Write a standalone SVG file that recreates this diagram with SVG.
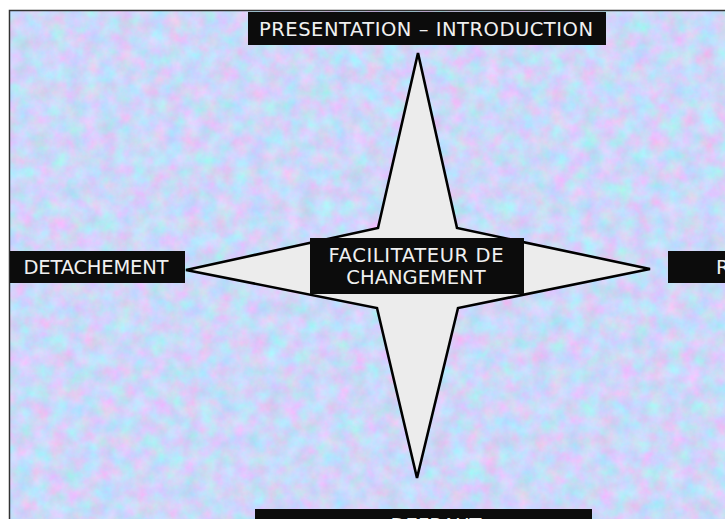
<svg xmlns="http://www.w3.org/2000/svg" width="725" height="519" viewBox="0 0 725 519">
  <defs>
    <filter id="tex" x="0" y="0" width="100%" height="100%" color-interpolation-filters="sRGB">
      <feTurbulence type="fractalNoise" baseFrequency="0.06" numOctaves="4" seed="7" result="n"/>
      <feColorMatrix in="n" type="matrix" values="0.4 0 0 0 0.6  -0.22 0.15 0 0 0.88  0 0 0.15 0 0.9  0 0 0 0 1"/>
    </filter>
    <style>
      .box { fill: #0c0c0c; }
      .lbl { fill: #f0f0f0; font-family: "DejaVu Sans", Verdana, sans-serif; font-size: 19.5px; text-anchor: middle; }
      .star { fill: #ececec; stroke: #000; stroke-width: 2.6; stroke-linejoin: miter; }
    </style>
  </defs>
  <rect x="0" y="0" width="725" height="519" fill="#ffffff"/>
  <rect x="10" y="11" width="715" height="508" fill="#c8d6f6" filter="url(#tex)"/>
  <path d="M9.5 519 V10.5 H725" fill="none" stroke="#333" stroke-width="1.5"/>

  <g id="star">
    <polygon class="star" points="418,53 457,228 650,269 458,308 417,478 377,308 186,270 378,228"/>
  </g>

  <g id="top">
    <rect class="box" x="248" y="12" width="358" height="33"/>
    <text class="lbl" x="426" y="36" textLength="334">PRESENTATION – INTRODUCTION</text>
  </g>
  <g id="left">
    <rect class="box" x="10" y="251" width="175" height="32"/>
    <text class="lbl" x="96" y="274" textLength="145">DETACHEMENT</text>
  </g>
  <g id="right">
    <rect class="box" x="668" y="251" width="80" height="32"/>
    <text class="lbl" x="716" y="274" style="text-anchor:start">R</text>
  </g>
  <g id="bottom">
    <rect class="box" x="255" y="509" width="337" height="30"/>
    <text class="lbl" x="436" y="532">DEFRAUT</text>
  </g>
  <g id="center">
    <rect class="box" x="310" y="238" width="214" height="56"/>
    <text class="lbl" x="416" y="262" textLength="175">FACILITATEUR DE</text>
    <text class="lbl" x="416" y="284">CHANGEMENT</text>
  </g>
</svg>
